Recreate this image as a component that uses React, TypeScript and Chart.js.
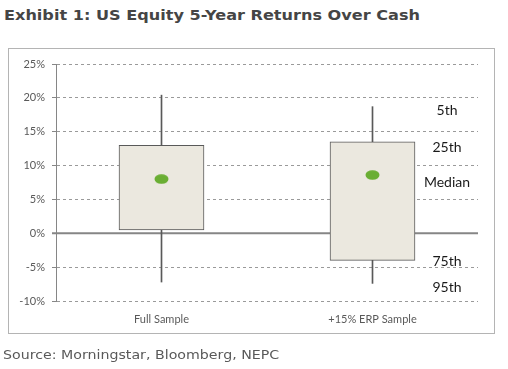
import React, { useEffect, useRef } from 'react';
import { Chart, registerables } from 'chart.js';
Chart.register(...registerables);

const categories = ['Full Sample', '+15% ERP Sample'];
const pct5 = [20.4, 18.7];
const pct25 = [13.0, 13.5];
const median = [8.0, 8.6];
const pct75 = [0.5, -4.0];
const pct95 = [-7.2, -7.4];
const yTicks = [-10, -5, 0, 5, 10, 15, 20, 25];
const keyLabels = ['5th', '25th', 'Median', '75th', '95th'];
const keyValues = [18.1, 12.7, 7.5, -4.2, -8.0];

const FONT = 'Lato, "Liberation Sans", sans-serif';

export default function App() {
  const ref = useRef<HTMLCanvasElement | null>(null);

  useEffect(() => {
    const canvas = ref.current;
    if (!canvas) return;

    const dot = document.createElement('canvas');
    dot.width = 15;
    dot.height = 10;
    const dctx = dot.getContext('2d')!;
    dctx.fillStyle = '#6aae33';
    dctx.beginPath();
    dctx.ellipse(7.5, 5, 7, 4.8, 0, 0, Math.PI * 2);
    dctx.fill();

    const zeroLine = {
      id: 'zeroLine',
      beforeDatasetsDraw(chart: any) {
        const { ctx, chartArea } = chart;
        const y = chart.scales.y.getPixelForValue(0);
        ctx.save();
        ctx.strokeStyle = '#868686';
        ctx.lineWidth = 2;
        ctx.beginPath();
        ctx.moveTo(chartArea.left - 4, y);
        ctx.lineTo(chartArea.right, y);
        ctx.stroke();
        ctx.restore();
      },
    };

    const keyText = {
      id: 'keyText',
      afterDatasetsDraw(chart: any) {
        const { ctx, chartArea } = chart;
        const ys = chart.scales.y;
        ctx.save();
        ctx.fillStyle = '#1a1a1a';
        ctx.font = `14px ${FONT}`;
        ctx.textAlign = 'center';
        ctx.textBaseline = 'middle';
        keyLabels.forEach((t, i) => {
          ctx.fillText(t, chartArea.right - 31, ys.getPixelForValue(keyValues[i]));
        });
        ctx.restore();
      },
    };

    const chart = new Chart(canvas, {
      type: 'bar',
      data: {
        labels: categories,
        datasets: [
          {
            type: 'line',
            data: median,
            showLine: false,
            pointStyle: dot as any,
            pointRadius: 6,
            order: 0,
          } as any,
          {
            data: categories.map((_, i) => [pct75[i], pct25[i]]),
            backgroundColor: '#ebe8df',
            borderColor: '#595959',
            borderWidth: 1,
            borderSkipped: false,
            barThickness: 85,
            grouped: false,
            order: 1,
          },
          {
            data: categories.map((_, i) => [pct95[i], pct5[i]]),
            backgroundColor: '#595959',
            borderWidth: 0,
            barThickness: 1,
            grouped: false,
            order: 2,
          },
        ],
      } as any,
      options: {
        animation: false,
        responsive: false,
        events: [],
        layout: { padding: { left: 9, right: 30, top: 64, bottom: 40 } },
        plugins: { legend: { display: false }, tooltip: { enabled: false } },
        scales: {
          x: {
            grid: { display: false, drawTicks: false },
            border: { display: false },
            ticks: { color: '#595959', font: { family: FONT, size: 11 }, padding: 12 },
            afterFit: (s: any) => { s.height = 28; },
          },
          y: {
            min: yTicks[0],
            max: yTicks[yTicks.length - 1],
            afterBuildTicks: (s: any) => { s.ticks = yTicks.map((v) => ({ value: v })); },
            afterFit: (s: any) => { s.width = 47; },
            grid: {
              color: (c: any) => (c.tick && c.tick.value === 0 ? 'rgba(0,0,0,0)' : '#9a9a9a'),
              tickColor: '#868686',
              tickLength: 4,
              tickBorderDash: [],
              lineWidth: 1,
            },
            border: { display: true, color: '#868686', width: 1, dash: [3, 3] },
            ticks: {
              color: '#595959',
              font: { family: FONT, size: 11 },
              padding: 7,
              callback: (v: any) => `${v}%`,
            },
          },
        },
      } as any,
      plugins: [zeroLine, keyText],
    });
    return () => chart.destroy();
  }, []);

  return (
    <div style={{ position: 'absolute', left: 0, top: 0, width: 508, height: 369, background: '#fff' }}>
      <div
        style={{
          position: 'absolute', left: 4, top: 7, lineHeight: '16px',
          font: 'bold 14px "DejaVu Sans", Verdana, sans-serif', color: '#454545', whiteSpace: 'nowrap',
          transform: 'scaleX(1.15)', transformOrigin: 'left center',
        }}
      >
        Exhibit 1: US Equity 5-Year Returns Over Cash
      </div>
      <div
        style={{
          position: 'absolute', left: 8, top: 48, width: 487, height: 286,
          border: '1px solid #b4b4b4', boxSizing: 'border-box',
        }}
      />
      <canvas ref={ref} width={508} height={369} style={{ position: 'absolute', left: 0, top: 0 }} />
      <div
        style={{
          position: 'absolute', left: 3, top: 347, lineHeight: '15px',
          font: '12.5px "DejaVu Sans", Verdana, sans-serif', color: '#595959', whiteSpace: 'nowrap',
          transform: 'scaleX(1.135)', transformOrigin: 'left center',
        }}
      >
        Source: Morningstar, Bloomberg, NEPC
      </div>
    </div>
  );
}
